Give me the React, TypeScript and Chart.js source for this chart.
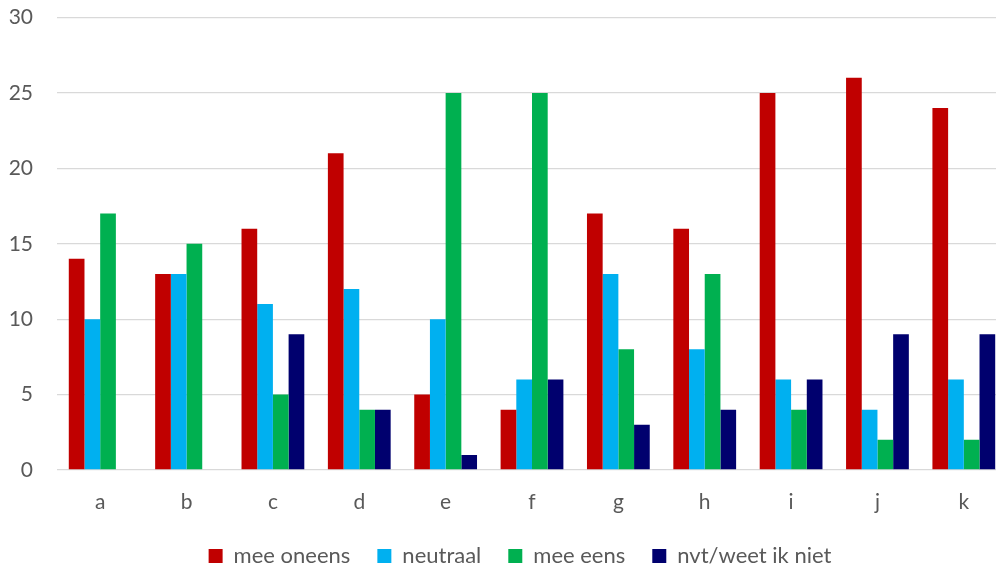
import React, { useEffect, useRef } from "react";
import { Chart, registerables } from "chart.js";

Chart.register(...registerables);

const categories = ["a", "b", "c", "d", "e", "f", "g", "h", "i", "j", "k"];
const meeOneens = [14, 13, 16, 21, 5, 4, 17, 16, 25, 26, 24];
const neutraal = [10, 13, 11, 12, 10, 6, 13, 8, 6, 4, 6];
const meeEens = [17, 15, 5, 4, 25, 25, 8, 13, 4, 2, 2];
const nvt = [0, 0, 9, 4, 1, 6, 3, 4, 6, 9, 9];
const seriesNames = ["mee oneens", "neutraal", "mee eens", "nvt/weet ik niet"];
const seriesColors = ["#C00000", "#00B0F0", "#00B050", "#00006E"];
const yTicks = [0, 5, 10, 15, 20, 25, 30];

const FONT = "Lato";
const TEXT = "#595959";

export default function App() {
  const ref = useRef<HTMLCanvasElement | null>(null);
  useEffect(() => {
    if (!ref.current) return;
    const values = [meeOneens, neutraal, meeEens, nvt];
    const chart = new Chart(ref.current, {
      type: "bar",
      data: {
        labels: categories,
        datasets: values.map((v, i) => ({
          label: seriesNames[i],
          data: v,
          backgroundColor: seriesColors[i],
          borderWidth: 0,
          categoryPercentage: 0.727,
          barPercentage: 1,
        })),
      },
      options: {
        responsive: false,
        animation: false,
        devicePixelRatio: 1,
        layout: { padding: { top: 17.5, right: 0, left: 0, bottom: 0 } },
        plugins: {
          tooltip: { enabled: false },
          legend: {
            position: "bottom",
            labels: {
              boxWidth: 14,
              boxHeight: 14,
              padding: 27,
              color: TEXT,
              font: { family: FONT, size: 22 },
            },
          },
        },
        scales: {
          x: {
            grid: { display: false, drawTicks: false },
            border: { display: false },
            ticks: { color: TEXT, font: { family: FONT, size: 21 }, padding: 20 },
            afterFit: (s: any) => {
              s.height = 48;
            },
          },
          y: {
            min: 0,
            max: 30,
            afterBuildTicks: (s: any) => {
              s.ticks = yTicks.map((v) => ({ value: v }));
            },
            grid: { color: "#D9D9D9", lineWidth: 1.3, drawTicks: true, tickLength: 24, tickColor: "rgba(0,0,0,0)" },
            border: { display: false },
            ticks: { color: TEXT, font: { family: FONT, size: 21 }, padding: 0 },
            afterFit: (s: any) => {
              s.width = 57;
            },
          },
          spacer: {
            type: "linear",
            position: "right",
            display: true,
            grid: { display: false, drawTicks: false },
            border: { display: false },
            ticks: { display: false },
            afterFit: (s: any) => {
              s.width = 33;
            },
          },
        },
      },
    });
    return () => chart.destroy();
  }, []);
  return (
    <div style={{ position: "fixed", left: 0, top: 0, width: 996, height: 569, overflow: "hidden", background: "#fff" }}>
      <canvas ref={ref} width={1040} height={577} style={{ display: "block" }} />
    </div>
  );
}
